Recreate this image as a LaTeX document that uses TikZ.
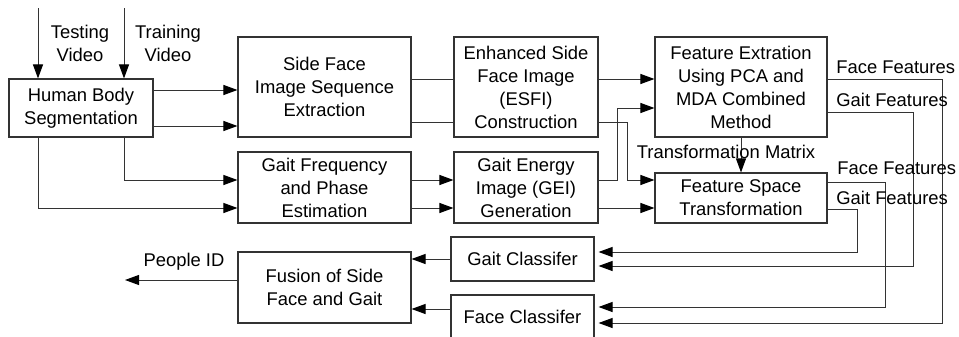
\documentclass[tikz,border=0pt]{standalone}
\usepackage{fontspec}
\setmainfont{Liberation Sans}
\usetikzlibrary{arrows.meta}
\begin{document}
\begin{tikzpicture}[x=0.5pt,y=-0.5pt,
  box/.style={draw=black!80,line width=0.55pt,inner sep=0pt,align=center,
    font=\fontsize{9.2pt}{11.5pt}\selectfont},
  lbl/.style={inner sep=0pt,align=center,font=\fontsize{9.2pt}{11.5pt}\selectfont},
  wire/.style={draw=black!80,line width=0.5pt},
  arr/.style={wire,-{Triangle[length=7pt,width=5pt,color=black]}},
  carr/.style={arr,shorten >=2pt}]
\useasboundingbox (0,0) rectangle (959,337);

% processing blocks
\node[box,minimum width=72pt,minimum height=29pt] (hbs) at (81,108) {Human Body\\Segmentation};
\node[box,minimum width=86.5pt,minimum height=50pt] (sf) at (324.5,87) {Side Face\\Image Sequence\\Extraction};
\node[box,minimum width=72pt,minimum height=50pt] (esfi) at (526,87) {Enhanced Side\\Face Image\\(ESFI)\\Construction};
\node[box,minimum width=86pt,minimum height=50pt] (fe) at (741,87) {Feature Extration\\Using PCA and\\MDA Combined\\Method};
\node[box,minimum width=86.5pt,minimum height=35.5pt] (gf) at (324.5,187.5) {Gait Frequency\\and Phase\\Estimation};
\node[box,minimum width=72pt,minimum height=35.5pt] (gei) at (526,187.5) {Gait Energy\\Image (GEI)\\Generation};
\node[box,minimum width=86pt,minimum height=25pt] (fst) at (741,198) {Feature Space\\Transformation};
\node[box,minimum width=71.5pt,minimum height=22pt] (gc) at (522.5,259) {Gait Classifer};
\node[box,minimum width=71.5pt,minimum height=22pt] (fc) at (522.5,317) {Face Classifer};
\node[box,minimum width=86.5pt,minimum height=35.5pt] (fus) at (324.5,287.5) {Fusion of Side\\Face and Gait};

% inputs
\coordinate (tin) at (38,8);
\coordinate (rin) at (124,8);
\draw[arr] (tin) -- (tin |- hbs.north);
\draw[arr] (rin) -- (rin |- hbs.north);
\node[lbl] (tv) at (80,43) {Testing\\Video};
\node[lbl] (rv) at (168,43) {Training\\Video};

% segmentation to the two branches
\draw[arr] (hbs.east |- 0,90) -- (sf.west |- 0,90);
\draw[arr] (hbs.east |- 0,126) -- (sf.west |- 0,126);
\draw[arr] (hbs.south -| rin) |- (gf.west |- 0,180);
\draw[arr] (hbs.south -| tin) |- (gf.west |- 0,208);

% face branch
\draw[wire] (sf.east |- 0,79) -- (esfi.west |- 0,79);
\draw[wire] (sf.east |- 0,122) -- (esfi.west |- 0,122);
\draw[arr] (esfi.east |- 0,79) -- (fe.west |- 0,79);
\draw[arr] (esfi.east |- 0,122) -- (627,122) |- (fst.west |- 0,180);

% gait branch
\draw[arr] (gf.east |- 0,180) -- (gei.west |- 0,180);
\draw[arr] (gf.east |- 0,208) -- (gei.west |- 0,208);
\draw[arr] (gei.east |- 0,180) -- (617,180) |- (fe.west |- 0,108);
\draw[arr] (gei.east |- 0,208) -- (fst.west |- 0,208);

% transformation matrix
\draw[arr] (fe.south) -- (fst.north);
\node[lbl] (tm) at (726,152) {Transformation Matrix};

% feature outputs to the classifiers
\draw[carr] (fe.east |- 0,79) -| (942,323) -- (fc.east |- 0,323);
\draw[carr] (fe.east |- 0,112) -| (913,266) -- (gc.east |- 0,266);
\draw[carr] (fst.east |- 0,182) -| (885,307) -- (fc.east |- 0,307);
\draw[carr] (fst.east |- 0,209) -| (857,252) -- (gc.east |- 0,252);
\node[lbl,anchor=west] (ff1) at (836,67) {Face Features};
\node[lbl,anchor=west] (gf1) at (836,100) {Gait Features};
\node[lbl,anchor=west] (ff2) at (837,168) {Face Features};
\node[lbl,anchor=west] (gf2) at (836,198) {Gait Features};

% fusion and result
\draw[arr] (gc.west |- 0,259) -- (fus.east |- 0,259);
\draw[arr] (fc.west |- 0,309) -- (fus.east |- 0,309);
\coordinate (out) at (125,280);
\draw[arr] (fus.west |- out) -- (out);
\node[lbl] (pid) at (184,262) {People ID};
\end{tikzpicture}
\end{document}
